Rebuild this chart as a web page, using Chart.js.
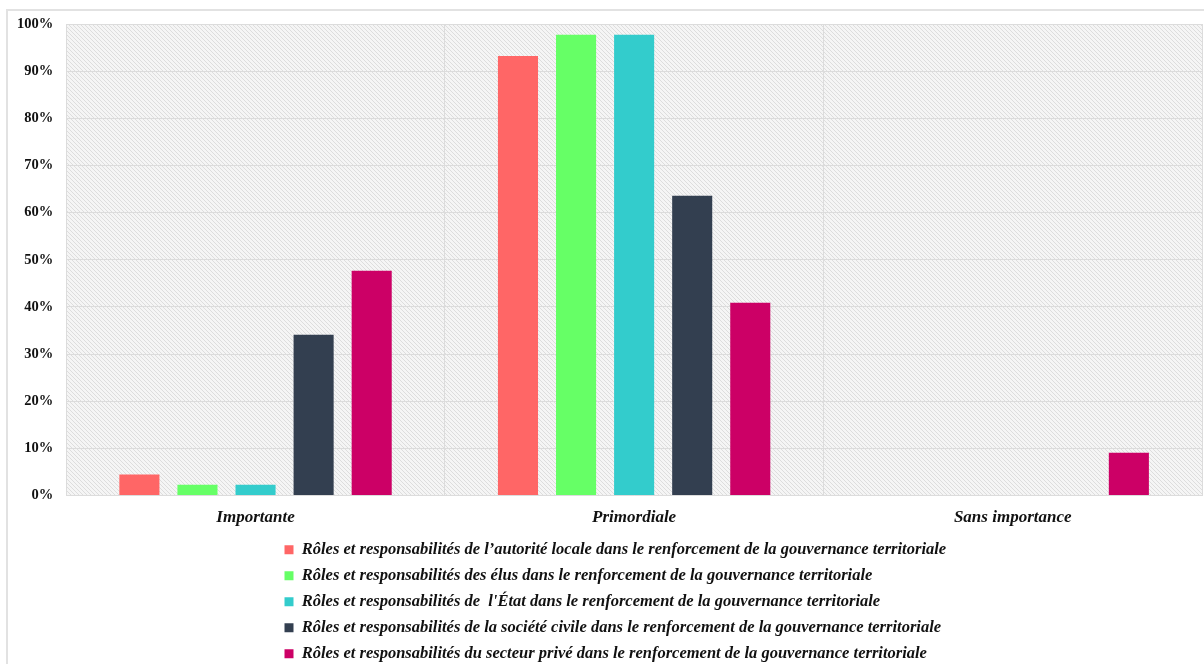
<!DOCTYPE html>
<html>
<head>
<meta charset="utf-8">
<script src="https://cdn.jsdelivr.net/npm/chart.js@4.4.1/dist/chart.umd.min.js"></script>
<style>
    html, body { margin: 0; padding: 0; background: #ffffff; }
    #wrap { position: relative; width: 1204px; height: 664px; }
</style>
</head>
<body>
<div id="wrap"><canvas id="chart"></canvas></div>
<script>
const categories = ['Importante', 'Primordiale', 'Sans importance'];

const seriesLabels = [
    'Rôles et responsabilités de l\u2019autorité locale dans le renforcement de la gouvernance territoriale',
    'Rôles et responsabilités des élus dans le renforcement de la gouvernance territoriale',
    'Rôles et responsabilités de  l\'État dans le renforcement de la gouvernance territoriale',
    'Rôles et responsabilités de la société civile dans le renforcement de la gouvernance territoriale',
    'Rôles et responsabilités du secteur privé dans le renforcement de la gouvernance territoriale'
];

const seriesColors = ['#ff6666', '#66ff66', '#33cccc', '#333f50', '#cc0066'];

const autoriteLocale = [4.5, 93.2, 0];
const elus = [2.3, 97.7, 0];
const etat = [2.3, 97.7, 0];
const societeCivile = [34.1, 63.6, 0];
const secteurPrive = [47.7, 40.9, 9.1];

const yTicks = [0, 10, 20, 30, 40, 50, 60, 70, 80, 90, 100];

const seriesValues = [autoriteLocale, elus, etat, societeCivile, secteurPrive];

// Hatched plot background + light frame around the whole figure
const backdrop = {
    id: 'backdrop',
    beforeDraw(chart) {
        const { ctx, chartArea } = chart;
        ctx.save();
        ctx.strokeStyle = '#e2e2e2';
        ctx.lineWidth = 2;
        ctx.strokeRect(7, 10, 1400, 800);

        const tile = document.createElement('canvas');
        tile.width = 4;
        tile.height = 4;
        const t = tile.getContext('2d');
        t.fillStyle = '#f5f5f5';
        t.fillRect(0, 0, 4, 4);
        t.strokeStyle = '#dddddd';
        t.lineWidth = 1;
        t.beginPath();
        t.moveTo(0, 0); t.lineTo(4, 4);
        t.moveTo(-1, 3); t.lineTo(1, 5);
        t.moveTo(3, -1); t.lineTo(5, 1);
        t.stroke();
        ctx.fillStyle = ctx.createPattern(tile, 'repeat');
        ctx.fillRect(chartArea.left, chartArea.top, chartArea.right - chartArea.left, chartArea.bottom - chartArea.top);
        ctx.restore();
    }
};

// Keep the legend rows left-aligned as one block, just under the axis labels
const legendShift = {
    id: 'legendShift',
    beforeDraw(chart) {
        const lg = chart.legend;
        const w = lg.right - lg.left;
        const h = lg.bottom - lg.top;
        lg.left = 275;
        lg.right = 275 + w;
        lg.top = 532;
        lg.bottom = 532 + h;
    }
};

new Chart(document.getElementById('chart'), {
    type: 'bar',
    data: {
        labels: categories,
        datasets: seriesValues.map((vals, i) => ({
            label: seriesLabels[i],
            data: vals,
            backgroundColor: seriesColors[i],
            borderWidth: 0,
            categoryPercentage: 0.767,
            barPercentage: 0.69
        }))
    },
    options: {
        responsive: true,
        maintainAspectRatio: false,
        animation: false,
        layout: { padding: { left: 4, right: 2, top: 24, bottom: -16 } },
        plugins: {
            legend: {
                position: 'bottom',
                align: 'start',
                labels: {
                    color: '#111',
                    font: { family: '"Liberation Serif", serif', size: 16.5, weight: 'bold', style: 'italic' },
                    boxWidth: 9,
                    boxHeight: 9,
                    padding: 9.5
                }
            },
            tooltip: { enabled: false }
        },
        scales: {
            y: {
                min: 0,
                max: 100,
                afterBuildTicks: (axis) => { axis.ticks = yTicks.map(v => ({ value: v })); },
                grid: { color: '#dcdcdc', drawTicks: false },
                border: { color: '#dcdcdc' },
                ticks: {
                    color: '#111',
                    padding: 13,
                    font: { family: '"Liberation Serif", serif', size: 14.5, weight: 'bold' },
                    callback: (v) => v + '%'
                }
            },
            x: {
                grid: { color: '#dcdcdc', drawTicks: false, offset: true },
                border: { color: '#dcdcdc' },
                ticks: {
                    color: '#111',
                    padding: 12,
                    font: { family: '"Liberation Serif", serif', size: 17, weight: 'bold', style: 'italic' }
                }
            }
        }
    },
    plugins: [backdrop, legendShift]
});
</script>
</body>
</html>
